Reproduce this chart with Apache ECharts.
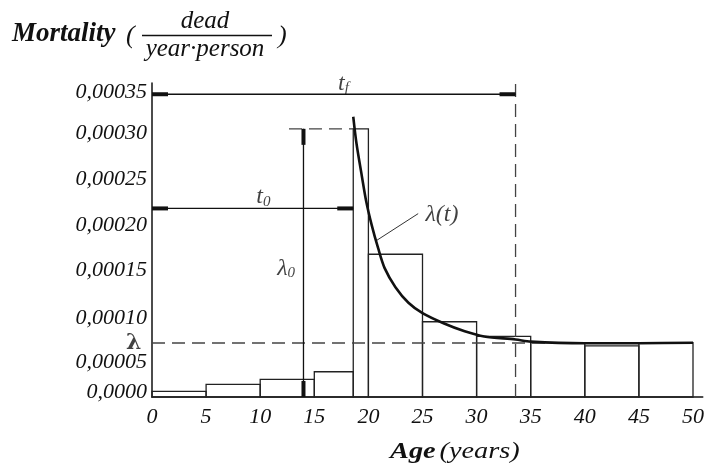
<!DOCTYPE html>
<html>
<head>
<meta charset="utf-8">
<style>
  html, body { margin: 0; padding: 0; background: #fff; }
  #chart { width: 707px; height: 464px; }
</style>
<script src="https://cdn.jsdelivr.net/npm/echarts@6/dist/echarts.min.js"></script>
</head>
<body>
<div id="chart"></div>
<script>
// histogram bins (age, years) and mortality rate
const binStart = [0, 5, 10, 15, 18.6, 20, 25, 30, 35, 40, 45];
const binEnd = [5, 10, 15, 18.6, 20, 25, 30, 35, 40, 45, 50];
const binRate = [0.0000065, 0.0000145, 0.0000204, 0.0000292, 0.00031, 0.000165, 0.000087, 0.00007, 0.0000628, 0.000059, 0.0000628];

// fitted curve lambda(t)
const curveAge = [18.6, 18.9, 19.4, 19.8, 20.3, 20.9, 21.5, 22.5, 23.7, 25, 27, 28.9, 30.7, 33.6, 35, 40, 45, 50];
const curveRate = [0.000324, 0.000293, 0.000255, 0.000226, 0.000199, 0.000172, 0.000149, 0.000127, 0.000109, 0.000097, 0.000085, 0.000076, 0.00007, 0.0000665, 0.000064, 0.0000622, 0.0000622, 0.0000628];

// reference values marked on the chart
const lambdaRate = 0.0000624;   // λ
const lambda0Rate = 0.00031;    // λ0
const lambda0Age = 14.0;
const t0Age = 18.6;
const t0Rate = 0.000218;
const tfAge = 33.6;
const tfRate = 0.00035;

const xTicks = [0, 5, 10, 15, 20, 25, 30, 35, 40, 45, 50];
const yTicks = [0, 0.00005, 0.0001, 0.00015, 0.0002, 0.00025, 0.0003, 0.00035];
const xMax = 50.9;
const yMax = 0.000363;

// annotation texts and where they sit (data coords)
const labelText = ['{i|t}{s|f}', '{i|t}{s|0}', '{i|λ}{s|0}', '{i|λ(t)}', '{b|λ}'];
const labelAge = [17.7, 10.3, 12.4, 26.8, -1.7];
const labelRate = [0.000362, 0.000231, 0.000148, 0.000211, lambdaRate];

// the printed tick labels sit slightly off their ticks (px, + is down)
const yLabelShift = [-5, 8, 8, 3, 1, -2, -4, -2];

const chart = echarts.init(document.getElementById('chart'));
const serif = '"Liberation Serif", "Times New Roman", serif';
const ink = '#111';

const dimLines = [
  [0, tfRate, tfAge, tfRate],
  [0, t0Rate, t0Age, t0Rate],
  [lambda0Age, 0, lambda0Age, lambda0Rate],
];
const dashLines = [
  [0, lambdaRate, 50, lambdaRate],
  [12.66, lambda0Rate, t0Age, lambda0Rate],
  [tfAge, 0, tfAge, yMax],
];
const leader = [[20.76, 0.000181, 24.6, 0.000212]];

function segRender(style, caps) {
  return function (params, api) {
    const p0 = api.coord([api.value(0), api.value(1)]);
    const p1 = api.coord([api.value(2), api.value(3)]);
    const children = [{
      type: 'line',
      shape: { x1: p0[0], y1: p0[1], x2: p1[0], y2: p1[1] },
      style: style,
    }];
    if (caps) {
      const dx = p1[0] - p0[0], dy = p1[1] - p0[1];
      const len = Math.hypot(dx, dy);
      const ux = dx / len, uy = dy / len, c = 16;
      children.push({
        type: 'line',
        shape: { x1: p0[0], y1: p0[1], x2: p0[0] + ux * c, y2: p0[1] + uy * c },
        style: { stroke: ink, lineWidth: 4 },
      }, {
        type: 'line',
        shape: { x1: p1[0] - ux * c, y1: p1[1] - uy * c, x2: p1[0], y2: p1[1] },
        style: { stroke: ink, lineWidth: 4 },
      });
    }
    return { type: 'group', children: children };
  };
}

const yRich = {};
yLabelShift.forEach((s, i) => {
  yRich['y' + i] = {
    fontFamily: serif, fontStyle: 'italic', fontSize: 22, color: ink,
    padding: s > 0 ? [2 * s, 0, 0, 0] : [0, 0, -2 * s, 0],
  };
});

const sub = { fontFamily: serif, fontStyle: 'italic', fontSize: 15, color: ink, lineHeight: 12, verticalAlign: 'bottom' };

chart.setOption({
  animation: false,
  backgroundColor: '#fff',
  grid: { left: 152, right: 0, top: 83, bottom: 67 },
  xAxis: {
    type: 'value', min: 0, max: xMax, interval: 5,
    axisLine: { show: true, onZero: false, lineStyle: { color: ink, width: 1.5 } },
    axisTick: { show: false },
    splitLine: { show: false },
    axisLabel: {
      showMaxLabel: false, margin: 9,
      fontFamily: serif, fontStyle: 'italic', fontSize: 22, color: ink,
      formatter: (v) => (xTicks.includes(v) ? String(v) : ''),
    },
  },
  yAxis: {
    type: 'value', min: 0, max: yMax, interval: 0.00005,
    axisLine: { show: true, onZero: false, lineStyle: { color: ink, width: 1.5 } },
    axisTick: { show: false },
    splitLine: { show: false },
    axisLabel: {
      showMaxLabel: false, margin: 5,
      fontFamily: serif, fontStyle: 'italic', fontSize: 22, color: ink,
      rich: yRich,
      formatter: (v) => {
        const i = yTicks.findIndex((k) => Math.abs(k - v) < 1e-9);
        if (i < 0) return '';
        const t = yTicks[i];
        return '{y' + i + '|' + (t === 0 ? '0,0000' : t.toFixed(5).replace('.', ',')) + '}';
      },
    },
  },
  series: [
    {
      type: 'custom',
      data: binStart.map((s, i) => [s, binEnd[i], binRate[i]]),
      encode: { x: [0, 1], y: 2 },
      renderItem(params, api) {
        const p0 = api.coord([api.value(0), api.value(2)]);
        const p1 = api.coord([api.value(1), 0]);
        return {
          type: 'rect',
          shape: { x: p0[0], y: p0[1], width: p1[0] - p0[0], height: p1[1] - p0[1] },
          style: { fill: 'none', stroke: '#222', lineWidth: 1.3 },
        };
      },
    },
    {
      type: 'custom',
      data: dashLines,
      encode: { x: [0, 2], y: [1, 3] },
      renderItem: segRender({ stroke: '#444', lineWidth: 1.3, lineDash: [13, 7] }, false),
    },
    {
      type: 'custom',
      data: dimLines,
      encode: { x: [0, 2], y: [1, 3] },
      renderItem: segRender({ stroke: ink, lineWidth: 1.3 }, true),
    },
    {
      type: 'custom',
      data: leader,
      encode: { x: [0, 2], y: [1, 3] },
      renderItem: segRender({ stroke: '#333', lineWidth: 1 }, false),
    },
    {
      type: 'line',
      data: curveAge.map((a, i) => [a, curveRate[i]]),
      smooth: 0.3,
      showSymbol: false,
      lineStyle: { color: ink, width: 2.6 },
    },
    {
      type: 'scatter',
      clip: false,
      symbolSize: 0,
      data: labelAge.map((a, i) => ({ value: [a, labelRate[i]], text: labelText[i] })),
      label: {
        show: true,
        position: 'inside',
        formatter: (p) => p.data.text,
        rich: {
          i: { fontFamily: serif, fontStyle: 'italic', fontSize: 24, color: ink, lineHeight: 24, verticalAlign: 'bottom' },
          s: sub,
          b: { fontFamily: '"DejaVu Serif", serif', fontWeight: 'bold', fontSize: 22, color: ink, lineHeight: 24 },
        },
      },
    },
  ],
  graphic: [
    { type: 'text', x: 12, y: 34, style: { text: 'Mortality', font: `italic bold 27px ${serif}`, fill: ink, verticalAlign: 'middle' } },
    { type: 'text', x: 126, y: 36, style: { text: '(', font: `italic 26px ${serif}`, fill: ink, verticalAlign: 'middle' } },
    { type: 'text', x: 205, y: 21, style: { text: 'dead', font: `italic 25px ${serif}`, fill: ink, align: 'center', verticalAlign: 'middle' } },
    { type: 'line', shape: { x1: 142, y1: 35.5, x2: 272, y2: 35.5 }, style: { stroke: ink, lineWidth: 1.5 } },
    { type: 'text', x: 205, y: 49, style: { text: 'year·person', font: `italic 25px ${serif}`, fill: ink, align: 'center', verticalAlign: 'middle' } },
    { type: 'text', x: 278, y: 36, style: { text: ')', font: `italic 26px ${serif}`, fill: ink, verticalAlign: 'middle' } },
    {
      type: 'text', x: 390, y: 452, scaleX: 1.18,
      style: {
        text: '{b|Age} {i|(years)}',
        verticalAlign: 'middle',
        rich: {
          b: { fontFamily: serif, fontStyle: 'italic', fontWeight: 'bold', fontSize: 24, fill: ink },
          i: { fontFamily: serif, fontStyle: 'italic', fontSize: 24, fill: ink },
        },
      },
    },
  ],
});
</script>
</body>
</html>
